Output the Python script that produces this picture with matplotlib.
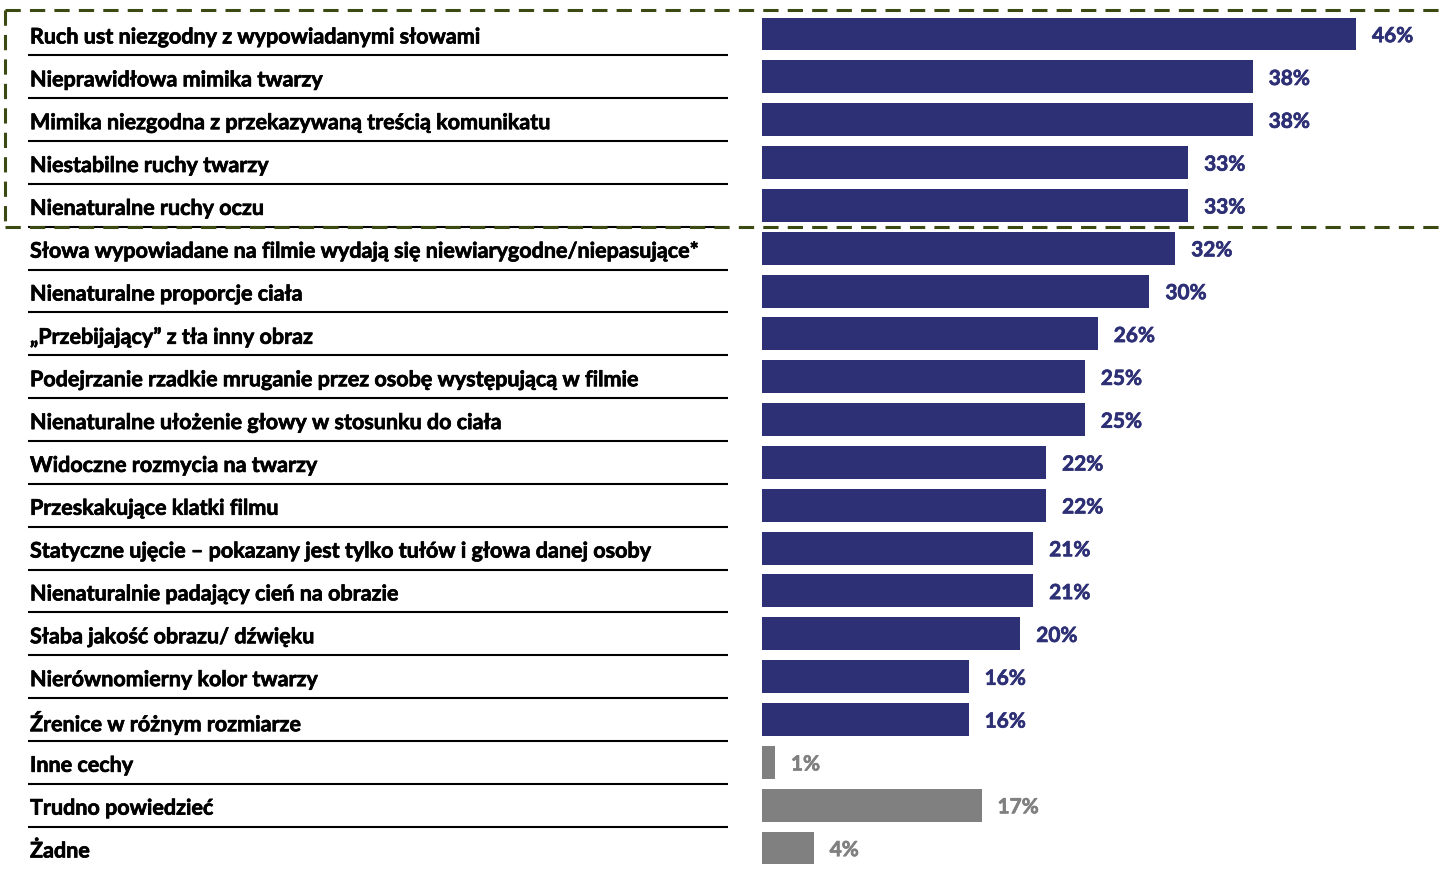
import matplotlib.pyplot as plt
import matplotlib.patheffects as pe
from matplotlib.transforms import blended_transform_factory

plt.rcParams["font.family"] = ["Lato", "DejaVu Sans"]

etykiety = [
    "Ruch ust niezgodny z wypowiadanymi słowami",
    "Nieprawidłowa mimika twarzy",
    "Mimika niezgodna z przekazywaną treścią komunikatu",
    "Niestabilne ruchy twarzy",
    "Nienaturalne ruchy oczu",
    "Słowa wypowiadane na filmie wydają się niewiarygodne/niepasujące*",
    "Nienaturalne proporcje ciała",
    "„Przebijający” z tła inny obraz",
    "Podejrzanie rzadkie mruganie przez osobę występującą w filmie",
    "Nienaturalne ułożenie głowy w stosunku do ciała",
    "Widoczne rozmycia na twarzy",
    "Przeskakujące klatki filmu",
    "Statyczne ujęcie – pokazany jest tylko tułów i głowa danej osoby",
    "Nienaturalnie padający cień na obrazie",
    "Słaba jakość obrazu/ dźwięku",
    "Nierównomierny kolor twarzy",
    "Źrenice w różnym rozmiarze",
    "Inne cechy",
    "Trudno powiedzieć",
    "Żadne",
]
wartosci = [46, 38, 38, 33, 33, 32, 30, 26, 25, 25, 22, 22, 21, 21, 20, 16, 16, 1, 17, 4]
szare = [False] * 17 + [True] * 3

GRANAT = "#2E3076"
SZARY = "#808080"
RAMKA = "#3B4A12"

W, H = 1439, 871
x0_px, skala = 762, (1356 - 762) / 46
y0_px, krok = 34, (848 - 34) / 19

fig = plt.figure(figsize=(W / 100, H / 100), dpi=100)
ax = fig.add_axes([0, 0, 1, 1])
ax.set_xlim(-x0_px / skala, (W - x0_px) / skala)
ax.set_ylim((H - y0_px) / krok, -y0_px / krok)
ax.axis("off")

n = len(etykiety)
pozycje = list(range(n))
kolory = [SZARY if s else GRANAT for s in szare]
ax.barh(pozycje, wartosci, height=0.77, color=kolory)

tr = blended_transform_factory(ax.transAxes, ax.transData)
for i, (txt, v, s) in enumerate(zip(etykiety, wartosci, szare)):
    kol = SZARY if s else GRANAT
    ax.text(30 / W, i + 0.07, txt, transform=tr, fontsize=15.5, fontweight="bold",
            va="center", ha="left", color="black",
            path_effects=[pe.withStroke(linewidth=0.5, foreground="black")])
    ax.text(v + 16 / skala, i + 0.05, f"{v}%", fontsize=15, fontweight="bold",
            va="center", ha="left", color=kol,
            path_effects=[pe.withStroke(linewidth=0.5, foreground=kol)])
    if i < n - 1:
        ax.plot([28 / W, 728 / W], [i + 0.5, i + 0.5], transform=tr,
                color="black", lw=1.5, solid_capstyle="butt")

# ramka wokol pierwszych pieciu odpowiedzi
gora = (10 - y0_px) / krok
dol = 4.5
lewo = 5 / W
styl = dict(transform=tr, color=RAMKA, lw=2.2, linestyle=(0, (5, 3)), clip_on=False)
ax.plot([lewo, 1.0], [gora, gora], **styl)
ax.plot([lewo, 1.0], [dol, dol], **styl)
ax.plot([lewo, lewo], [gora, dol], **styl)

fig.savefig("out.png", dpi=100)
